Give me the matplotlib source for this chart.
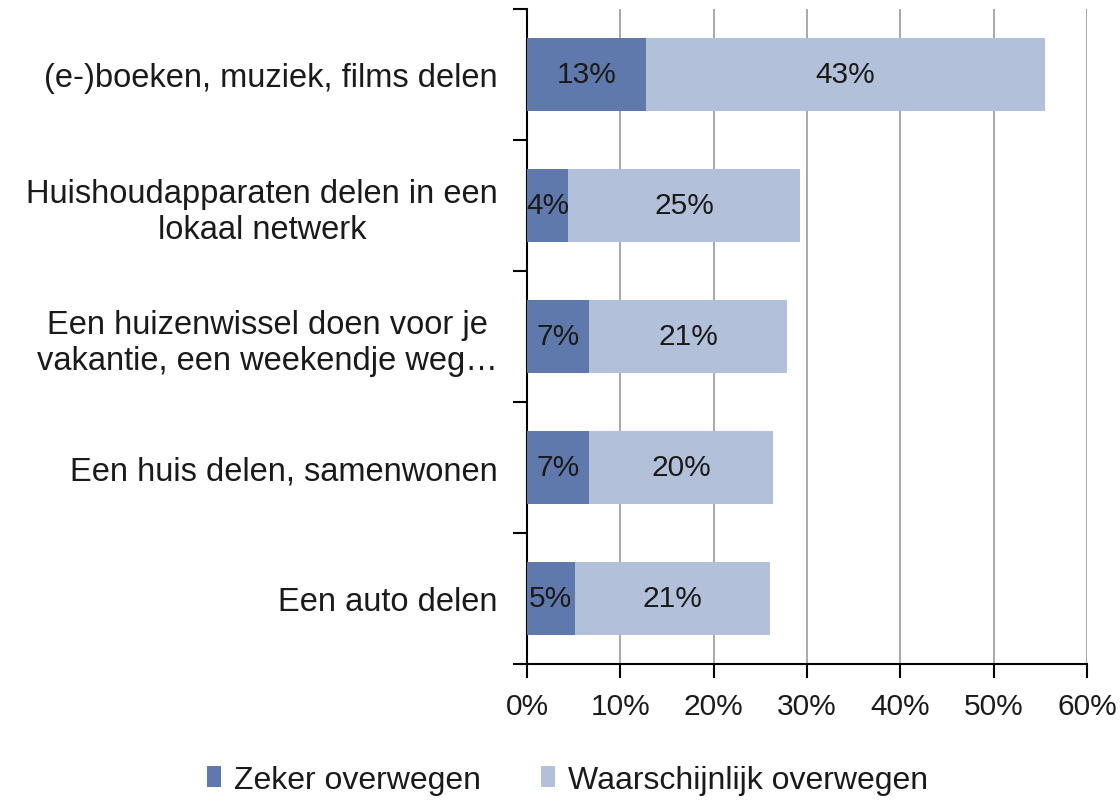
import matplotlib
matplotlib.use("Agg")
import matplotlib.pyplot as plt
from matplotlib.ticker import PercentFormatter

plt.rcParams['font.family'] = ['Liberation Sans', 'DejaVu Sans']

categories = [
    "(e-)boeken, muziek, films delen",
    "Huishoudapparaten delen in een\nlokaal netwerk",
    "Een huizenwissel doen voor je\nvakantie, een weekendje weg\u2026",
    "Een huis delen, samenwonen",
    "Een auto delen",
]
zeker = [12.8, 4.4, 6.6, 6.6, 5.1]
waarschijnlijk = [42.7, 24.9, 21.3, 19.8, 20.9]

dark = '#6079AD'
light = '#B3C0D9'

fig = plt.figure(figsize=(11.2, 8.04), dpi=100)
ax = fig.add_axes([0.4705, 0.1729, 0.5, 0.8147])

y = list(range(len(categories)))
h = 0.56
b1 = ax.barh(y, zeker, height=h, color=dark, label='Zeker overwegen', zorder=3)
b2 = ax.barh(y, waarschijnlijk, height=h, left=zeker, color=light,
             label='Waarschijnlijk overwegen', zorder=3)
ax.bar_label(b1, labels=[f"{v:.0f}%" for v in zeker], label_type='center',
             fontsize=21.5, color='#1a1a1a', zorder=4)
ax.bar_label(b2, labels=[f"{v:.0f}%" for v in waarschijnlijk], label_type='center',
             fontsize=21.5, color='#1a1a1a', zorder=4)

ax.set_xlim(0, 60)
ax.set_ylim(len(categories) - 0.5, -0.5)
ax.set_xticks(range(0, 61, 10))
ax.xaxis.set_major_formatter(PercentFormatter(decimals=0))
ax.set_yticks(y)
ax.set_yticklabels(categories, multialignment='center')
ax.tick_params(axis='y', length=0, pad=21, labelsize=23.5, labelcolor='#1a1a1a')
ax.set_yticks([i - 0.5 for i in range(len(categories) + 1)], minor=True)
ax.tick_params(axis='y', which='minor', length=10, width=1.5, color='black')
ax.tick_params(axis='x', length=10, width=1.5, labelsize=21.5, pad=10,
               labelcolor='#1a1a1a')
ax.grid(axis='x', color='#9a9a9a', linewidth=1.2, zorder=0)

for s in ['top', 'right']:
    ax.spines[s].set_visible(False)
ax.spines['left'].set_linewidth(1.5)
ax.spines['bottom'].set_linewidth(1.5)

leg = fig.legend(loc='lower center', bbox_to_anchor=(0.5066, -0.0255), ncol=2, frameon=False,
                 fontsize=23, handlelength=0.45, handleheight=0.6, handletextpad=0.4,
                 columnspacing=1.86)
for t in leg.get_texts():
    t.set_color('#1a1a1a')

fig.savefig('out.png', dpi=100)
